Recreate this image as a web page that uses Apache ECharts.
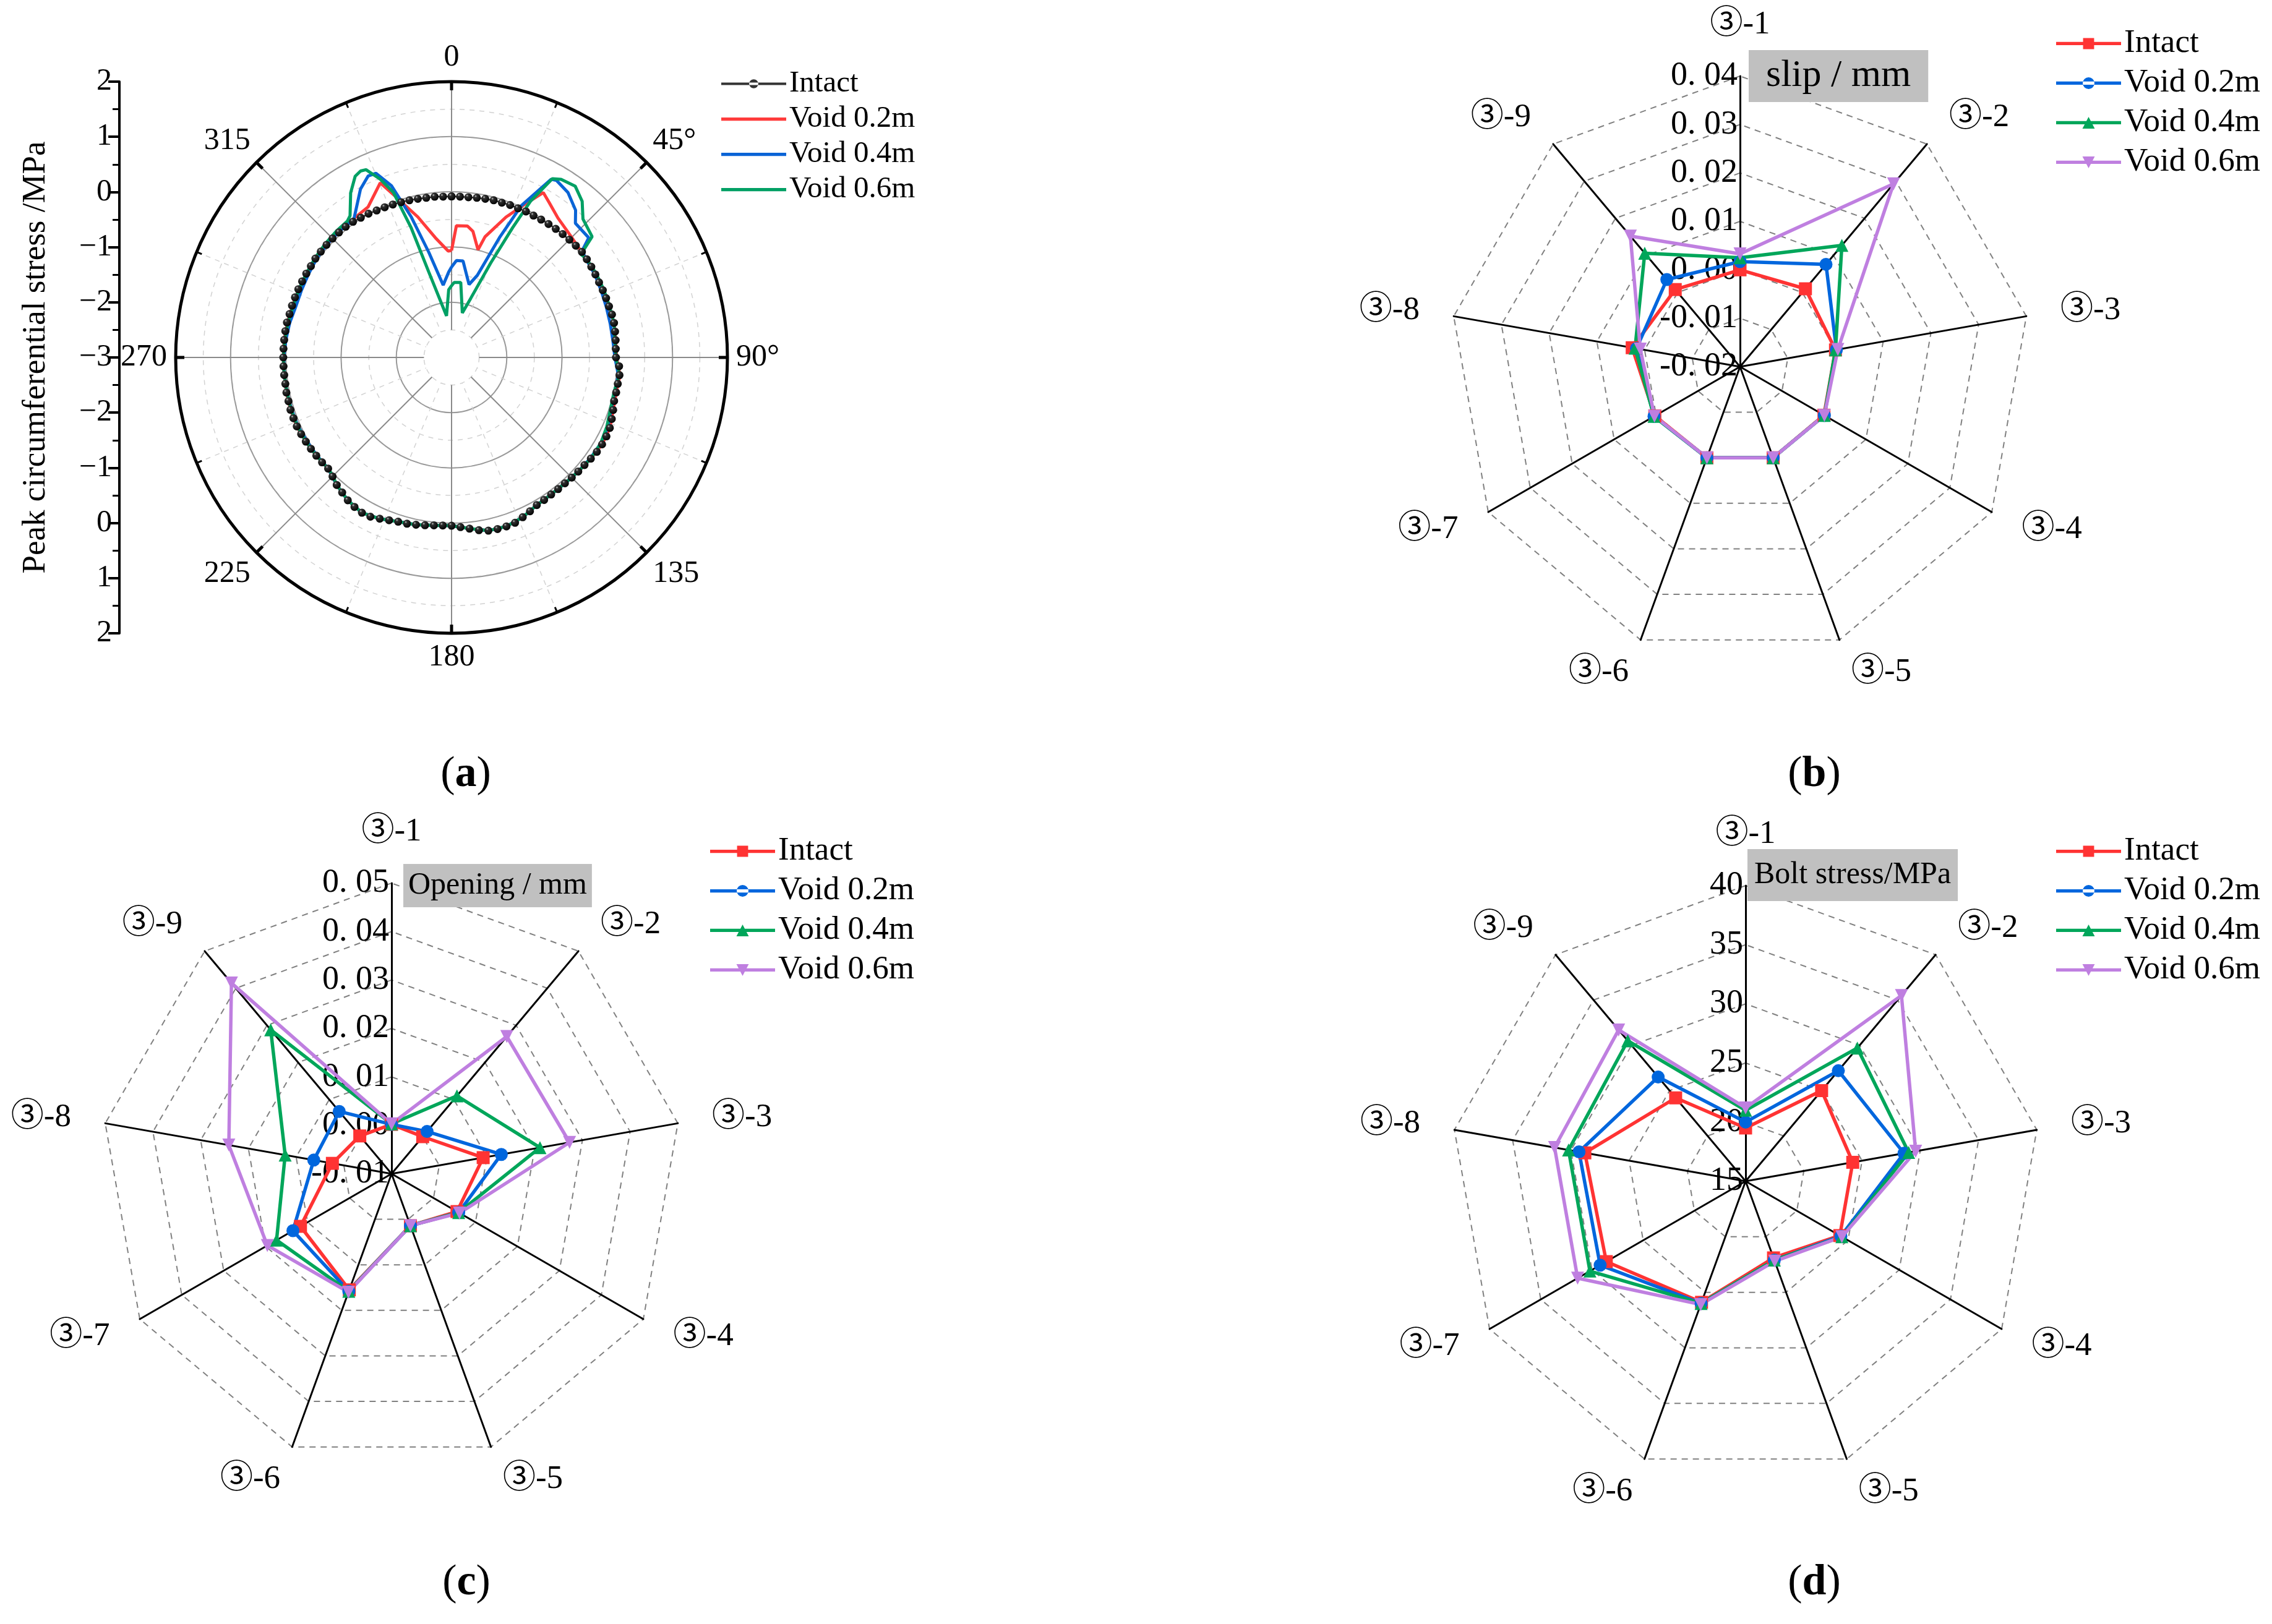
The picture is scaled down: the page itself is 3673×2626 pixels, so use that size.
<!DOCTYPE html>
<html>
<head>
<meta charset="utf-8">
<title>Tunnel lining response to voids</title>
<script src="https://cdn.jsdelivr.net/npm/echarts@6/dist/echarts.min.js"></script>
<style>
html, body { margin: 0; padding: 0; background: #fff; }
#chart { width: 3673px; height: 2626px; }
</style>
</head>
<body>
<div id="chart"></div>
<script>
const FONT = "'Liberation Serif', 'Times New Roman', 'Noto Sans CJK SC', serif"
const caseColors = ['#FF3333', '#0066DD', '#00A65A', '#BF7FE0']
const polarColors = ['#222222', '#FF3B3B', '#0A64D6', '#00A064']

// (a) peak circumferential stress around the lining, [angle deg] / [MPa]
const angleTicks = ['0', '45°', '90°', '135', '180', '225', '270', '315']
const stressTicks = ['2', '1', '0', '−1', '−2', '−3', '−2', '−1', '0', '1', '2']

const angIntact = [
    0, 3, 6, 9, 12, 15, 18, 21, 24, 27,
    30, 33, 36, 39, 42, 45, 48, 51, 54, 57,
    60, 63, 66, 69, 72, 75, 78, 81, 84, 87,
    90, 93, 96, 99, 102, 105, 108, 111, 114, 117,
    120, 123, 126, 129, 132, 135, 138, 141, 144, 147,
    150, 153, 156, 159, 162, 165, 168, 171, 174, 177,
    180, 183, 186, 189, 192, 195, 198, 201, 204, 207,
    210, 213, 216, 219, 222, 225, 228, 231, 234, 237,
    240, 243, 246, 249, 252, 255, 258, 261, 264, 267,
    270, 273, 276, 279, 282, 285, 288, 291, 294, 297,
    300, 303, 306, 309, 312, 315, 318, 321, 324, 327,
    330, 333, 336, 339, 342, 345, 348, 351, 354, 357,
    360
]
const rIntact = [
    -0.08, -0.08, -0.08, -0.07, -0.06, -0.05, -0.05, -0.04, -0.04, -0.03,
    -0.03, -0.02, -0.01, 0.00, 0.01, 0.02, 0.03, 0.04, 0.03, 0.02,
    0.01, 0.00, 0.00, 0.00, 0.00, 0.01, 0.01, 0.00, -0.01, -0.02,
    -0.02, 0.04, 0.06, 0.05, 0.05, 0.05, 0.08, 0.11, 0.14, 0.15,
    0.15, 0.14, 0.12, 0.10, 0.09, 0.08, 0.07, 0.07, 0.07, 0.08,
    0.09, 0.13, 0.17, 0.21, 0.22, 0.22, 0.21, 0.17, 0.12, 0.08,
    0.05, 0.05, 0.06, 0.08, 0.10, 0.12, 0.13, 0.16, 0.20, 0.24,
    0.25, 0.23, 0.20, 0.15, 0.11, 0.05, 0.01, 0.02, 0.03, 0.04,
    0.05, 0.06, 0.07, 0.07, 0.07, 0.06, 0.06, 0.05, 0.05, 0.05,
    0.05, 0.05, 0.05, 0.05, 0.05, 0.04, 0.04, 0.04, 0.04, 0.04,
    0.04, 0.04, 0.05, 0.05, 0.05, 0.05, 0.05, 0.05, 0.04, 0.02,
    0.01, -0.01, -0.02, -0.03, -0.04, -0.05, -0.06, -0.07, -0.07, -0.08,
    -0.08
]
const angVoid02 = [
    0, 2.1, 6.9, 9.6, 13.8, 15.5, 21.2, 25.8, 29.1, 32.2, 37.3, 43.9, 50,
    54, 60, 66, 72, 78, 84, 90, 96, 102, 108, 114, 120, 126, 132, 138, 144,
    150, 156, 162, 168, 174, 180, 186, 192, 198, 204, 210, 216, 222, 228,
    234, 240, 246, 252, 258, 264, 270, 276, 282, 288, 294, 300, 306, 312,
    318, 321, 331, 337.8, 340.4, 346.5, 352.3, 358.2, 360
]
const rVoid02 = [
    -1.06, -0.61, -0.60, -0.68, -0.99, -0.73, -0.27, 0.10, 0.42, 0.32, 0.18, 0.09, 0.04,
    0.03, 0.01, 0.00, 0.00, 0.01, -0.01, -0.01, 0.07, 0.05, 0.08, 0.14, 0.15, 0.12, 0.09, 0.07, 0.07,
    0.09, 0.17, 0.22, 0.21, 0.12, 0.05, 0.06, 0.10, 0.13, 0.20, 0.25, 0.20, 0.11, 0.01,
    0.03, 0.05, 0.07, 0.07, 0.06, 0.05, 0.05, 0.05, 0.04, 0.03, 0.03, 0.03, 0.04, 0.05,
    0.06, 0.07, 0.12, 0.42, 0.13, -0.38, -0.81, -1.07, -1.06
]
const angVoid04 = [
    0, 2.9, 6.8, 13.5, 17.4, 21.8, 24.7, 29.2, 30.7, 35.2, 40.1, 42.7, 48.9, 50.8,
    54, 60, 66, 72, 78, 84, 90, 96, 102, 108, 114, 120, 126, 132, 138, 144,
    150, 156, 162, 168, 174, 180, 186, 192, 198, 204, 210, 216, 222, 228,
    234, 240, 246, 252, 258, 264, 270, 276, 282, 288, 294, 300, 306, 312,
    318, 324.8, 328, 331.6, 335.3, 337.7, 340.7, 344, 347.8, 353.4, 358.1, 360
]
const rVoid04 = [
    -1.36, -1.24, -1.24, -1.64, -1.44, -0.66, 0.03, 0.70, 0.73, 0.66, 0.49, 0.31, 0.30, 0.05,
    0.02, 0.00, -0.03, -0.05, -0.06, -0.06, -0.04, 0.04, 0.02, 0.04, 0.10, 0.12, 0.11, 0.09, 0.07, 0.07,
    0.09, 0.17, 0.22, 0.21, 0.12, 0.05, 0.06, 0.10, 0.13, 0.20, 0.25, 0.20, 0.11, 0.01,
    0.02, 0.03, 0.05, 0.05, 0.05, 0.05, 0.04, 0.02, 0.00, -0.03, -0.02, 0.00, 0.03, 0.05,
    0.06, 0.07, 0.24, 0.47, 0.62, 0.61, 0.30, -0.35, -1.05, -1.68, -1.45, -1.36
]
const angVoid06 = [
    0, 2, 7, 13.6, 18, 22.5, 25.2, 26.8, 29.4, 31.6, 35.8, 39.9, 43.5, 49.3, 51.4,
    54, 60, 66, 72, 78, 84, 90, 96, 102, 108, 114, 120, 126, 132, 138, 144,
    150, 156, 162, 168, 174, 180, 186, 192, 198, 204, 210, 216, 222, 225, 228,
    234, 240, 246, 252, 258, 264, 270, 276, 282, 288, 294, 300, 306, 312,
    318, 322.6, 324.4, 328.5, 332, 334, 335.5, 338.2, 340.6, 342.7, 345.1, 353.1, 357.6, 360
]
const rVoid06 = [
    -1.70, -1.64, -1.63, -2.17, -1.87, -1.15, -0.40, 0.17, 0.72, 0.79, 0.83, 0.69, 0.46, 0.36, 0.00,
    0.03, 0.03, 0.02, 0.01, 0.01, -0.02, -0.02, 0.06, 0.01, 0.03, 0.08, 0.12, 0.12, 0.09, 0.07, 0.07,
    0.09, 0.17, 0.22, 0.21, 0.12, 0.05, 0.06, 0.10, 0.13, 0.20, 0.25, 0.20, 0.11, 0.04, 0.01,
    0.03, 0.05, 0.06, 0.06, 0.05, 0.05, 0.05, 0.04, 0.03, 0.02, 0.03, 0.04, 0.06, 0.08,
    0.10, 0.11, 0.16, 0.50, 0.72, 0.76, 0.74, 0.48, 0.17, -0.54, -1.40, -2.24, -1.77, -1.70
]

// (b)-(d) bolt measurements, order ③-1 ... ③-9 (clockwise from top)
const boltPoints = ['③-1', '③-2', '③-3', '③-4', '③-5', '③-6', '③-7', '③-8', '③-9']
const caseNames = ['Intact', 'Void 0.2m', 'Void 0.4m', 'Void 0.6m']

const slipIntact = [0.0000, 0.0010, 0.0000, 0.0000, 0.0000, 0.0000, 0.0003, 0.0026, 0.0008]
const slipVoid02 = [0.0017, 0.0076, 0.0002, 0.0001, 0.0000, 0.0000, 0.0005, 0.0017, 0.0035]
const slipVoid04 = [0.0025, 0.0127, 0.0000, 0.0001, 0.0000, 0.0000, 0.0005, 0.0020, 0.0106]
const slipVoid06 = [0.0033, 0.0293, 0.0005, 0.0001, 0.0000, 0.0000, 0.0004, 0.0009, 0.0152]

const openIntact = [0.0002, 0.0000, 0.0092, 0.0056, 0.0014, 0.0155, 0.0117, 0.0024, 0.0002]
const openVoid02 = [0.0002, 0.0014, 0.0130, 0.0060, 0.0014, 0.0158, 0.0135, 0.0063, 0.0068]
const openVoid04 = [0.0003, 0.0110, 0.0211, 0.0060, 0.0014, 0.0158, 0.0174, 0.0123, 0.0288]
const openVoid06 = [0.0003, 0.0270, 0.0273, 0.0062, 0.0014, 0.0160, 0.0196, 0.0241, 0.0414]

const boltIntact = [19.5, 25.0, 24.2, 24.2, 21.9, 25.9, 28.6, 28.8, 24.2]
const boltVoid02 = [20.0, 27.2, 28.6, 24.3, 22.1, 26.0, 29.2, 29.3, 26.5]
const boltVoid04 = [21.0, 29.7, 29.0, 24.4, 22.1, 26.0, 30.2, 30.2, 30.5]
const boltVoid06 = [21.2, 35.5, 29.6, 24.4, 22.2, 26.1, 31.4, 31.4, 31.7]

const panelTags = ['a', 'b', 'c', 'd']

// echarts lays radar indicators out anticlockwise, the figure goes clockwise
const ccw = [0, 8, 7, 6, 5, 4, 3, 2, 1]
const reorder = arr => ccw.map(i => arr[i])

// legend icons: line with marker in the middle
const ICON_LINE = 'M0,7.5H100V12.5H0Z'
const legendIcons = [
    ICON_LINE + 'M41.5,1.5H58.5V18.5H41.5Z',
    ICON_LINE + 'M41,10A9,9 0 1,0 59,10A9,9 0 1,0 41,10Z',
    ICON_LINE + 'M40.5,19L50,1L59.5,19Z',
    ICON_LINE + 'M40.5,1L59.5,1L50,19Z'
]
const markerSymbols = ['rect', 'circle', 'triangle', 'path://M0,0L10,0L5,9Z']

const ballFill = {
    type: 'radial', x: 0.35, y: 0.3, r: 0.75,
    colorStops: [{offset: 0, color: '#c8c8c8'}, {offset: 0.22, color: '#2e2e2e'}, {offset: 1, color: '#000000'}]
}

const chart = echarts.init(document.getElementById('chart'), null, {renderer: 'canvas'})

function fmt2 (v) {
    if (Math.abs(v) < 1e-9) v = 0
    return v.toFixed(2).replace('.', '. ')
}

function makeRadar (center, radius, min, max, splitNumber, formatter) {
    return {
        center: center,
        radius: radius,
        startAngle: 90,
        splitNumber: splitNumber,
        shape: 'polygon',
        nameGap: 56,
        indicator: reorder(boltPoints).map((n, i) => i === 0
            ? {name: n, min: min, max: max, axisLabel: {show: true}}
            : {name: n, min: min, max: max}),
        axisName: {color: '#000', fontSize: 53, fontFamily: FONT},
        axisLine: {lineStyle: {color: '#000', width: 3}},
        axisTick: {show: false},
        axisLabel: {show: false, fontSize: 54, color: '#000', fontFamily: FONT, margin: 4, formatter: formatter},
        splitLine: {lineStyle: {color: '#808080', width: 2, type: [10, 8]}},
        splitArea: {show: false}
    }
}

function radarSeries (radarIndex, prefix, arrays) {
    return {
        type: 'radar',
        radarIndex: radarIndex,
        symbolSize: 21,
        data: arrays.map((arr, i) => ({
            name: prefix + caseNames[i],
            value: reorder(arr),
            symbol: markerSymbols[i],
            itemStyle: {color: caseColors[i]},
            lineStyle: {color: caseColors[i], width: 5.5}
        }))
    }
}

function makeLegend (prefix, left, top, fontSize, itemGap, icons, styles) {
    return {
        left: left,
        top: top,
        orient: 'vertical',
        padding: 0,
        itemWidth: 105,
        itemHeight: 21,
        itemGap: itemGap,
        selectedMode: false,
        textStyle: {fontSize: fontSize, color: '#000', fontFamily: FONT},
        formatter: name => name.split(':')[1],
        data: caseNames.map((n, i) => Object.assign({name: prefix + n, icon: 'path://' + icons[i]}, styles ? {itemStyle: styles[i]} : {}))
    }
}

const polarLine = (name, angs, rs, color) => ({
    name: name,
    type: 'line',
    coordinateSystem: 'polar',
    polarIndex: 0,
    symbol: 'none',
    lineStyle: {color: color, width: 5},
    itemStyle: {color: color},
    data: angs.map((a, i) => [rs[i], a])
})

const hiddenRadius = {type: 'value', min: 0, max: 1, show: false}

const option = {
    animation: false,
    backgroundColor: '#fff',
    textStyle: {fontFamily: FONT, color: '#000'},
    title: [
        {text: 'slip / mm', left: 2827, top: 81, backgroundColor: '#c0c0c0', padding: [11, 28, 11, 28],
            textStyle: {fontSize: 62, lineHeight: 62, fontWeight: 'normal', fontFamily: FONT, color: '#000'}},
        {text: 'Opening / mm', left: 652, top: 1397, backgroundColor: '#c0c0c0', padding: [10, 8, 10, 8],
            textStyle: {fontSize: 50, lineHeight: 50, fontWeight: 'normal', fontFamily: FONT, color: '#000'}},
        {text: 'Bolt stress/MPa', left: 2825, top: 1373, backgroundColor: '#c0c0c0', padding: [17, 11, 17, 11],
            textStyle: {fontSize: 50, lineHeight: 50, fontWeight: 'normal', fontFamily: FONT, color: '#000'}}
    ],
    legend: [
        makeLegend('a:', 1166, 111, 49, 8,
            ['M0,8H100V12H0ZM43,10A7,7 0 1,0 57,10A7,7 0 1,0 43,10Z', 'M0,7.5H100V12.5H0Z', 'M0,7.5H100V12.5H0Z', 'M0,7.5H100V12.5H0Z'],
            [{color: '#333'}, {color: polarColors[1]}, {color: polarColors[2]}, {color: polarColors[3]}]),
        makeLegend('b:', 3324, 44, 53, 11, legendIcons),
        makeLegend('c:', 1148, 1350, 53, 11, legendIcons),
        makeLegend('d:', 3324, 1350, 53, 11, legendIcons)
    ],
    // folded stress scale drawn at the left of panel (a)
    grid: [{left: 193, top: 132, width: 1, height: 892, show: false}],
    xAxis: [{gridIndex: 0, type: 'value', show: false, min: 0, max: 1}],
    yAxis: [{
        gridIndex: 0,
        type: 'value',
        min: -5,
        max: 5,
        interval: 1,
        axisLine: {show: true, lineStyle: {color: '#000', width: 4}},
        axisTick: {show: true, length: 18, lineStyle: {color: '#000', width: 4}},
        minorTick: {show: true, splitNumber: 2, length: 11, lineStyle: {color: '#000', width: 3}},
        axisLabel: {fontSize: 50, color: '#000', fontFamily: FONT, margin: 12, formatter: v => stressTicks[5 - Math.round(v)]},
        splitLine: {show: false},
        name: 'Peak circumferential stress /MPa',
        nameLocation: 'middle',
        nameGap: 108,
        nameTextStyle: {fontSize: 53, color: '#000', fontFamily: FONT}
    }],
    polar: [
        {center: [730, 578], radius: [44.6, 446]},
        {center: [730, 578], radius: [0, 357.3]},
        {center: [730, 578], radius: [0, 446]}
    ],
    angleAxis: [{
        polarIndex: 0,
        type: 'value',
        min: 0,
        max: 360,
        interval: 45,
        startAngle: 90,
        clockwise: true,
        axisLine: {show: false},
        axisTick: {show: false},
        minorTick: {show: false, splitNumber: 2},
        axisLabel: {show: false},
        splitLine: {show: true, lineStyle: {color: '#8a8a8a', width: 2}},
        minorSplitLine: {show: true, lineStyle: {color: '#d2d2d2', width: 1.5, type: [8, 8]}}
    }, {
        polarIndex: 1,
        type: 'value',
        min: 0,
        max: 360,
        show: false
    }, {
        polarIndex: 2,
        type: 'value',
        min: 0,
        max: 360,
        interval: 45,
        startAngle: 90,
        clockwise: true,
        axisLine: {lineStyle: {color: '#000', width: 5}},
        axisTick: {show: true, inside: true, length: 14, lineStyle: {color: '#000', width: 5}},
        minorTick: {show: true, splitNumber: 2, length: 9, lineStyle: {color: '#000', width: 3}},
        axisLabel: {margin: 14, fontSize: 50, color: '#000', fontFamily: FONT, formatter: v => angleTicks[Math.round(v / 45) % 8]},
        splitLine: {show: false},
        minorSplitLine: {show: false}
    }],
    radiusAxis: [{
        polarIndex: 0,
        type: 'value',
        min: -2.5,
        max: 2,
        interval: 0.5,
        axisLine: {show: false},
        axisTick: {show: false},
        axisLabel: {show: false},
        splitLine: {show: true, lineStyle: {color: '#d2d2d2', width: 1.5, type: [8, 8]}}
    }, {
        polarIndex: 1,
        type: 'value',
        min: -3,
        max: 1,
        interval: 1,
        axisLine: {show: false},
        axisTick: {show: false},
        axisLabel: {show: false},
        splitLine: {show: true, lineStyle: {color: '#9a9a9a', width: 2}}
    }, Object.assign({polarIndex: 2}, hiddenRadius)],
    radar: [
        makeRadar([2813, 593], 470, -0.02, 0.04, 6, fmt2),
        makeRadar([633, 1898], 470, -0.01, 0.05, 6, fmt2),
        makeRadar([2822, 1910], 478, 15, 40, 5, v => String(Math.round(v)))
    ],
    graphic: panelTags.map((t, i) => ({
        type: 'text',
        x: [753, 2933, 754, 2933][i],
        y: [1253, 1253, 2560, 2560][i],
        style: {
            text: '{p|(}{b|' + t + '}{p|)}',
            align: 'center',
            verticalAlign: 'middle',
            rich: {
                p: {fontSize: 70, fontFamily: FONT, fill: '#000'},
                b: {fontSize: 70, fontFamily: FONT, fontWeight: 'bold', fill: '#000'}
            }
        }
    })),
    series: [
        {
            name: 'a:Intact',
            type: 'line',
            coordinateSystem: 'polar',
            polarIndex: 0,
            symbol: 'circle',
            symbolSize: 13,
            showAllSymbol: true,
            lineStyle: {color: '#222', width: 2},
            itemStyle: {color: ballFill},
            data: angIntact.map((a, i) => [rIntact[i], a])
        },
        polarLine('a:Void 0.2m', angVoid02, rVoid02, polarColors[1]),
        polarLine('a:Void 0.4m', angVoid04, rVoid04, polarColors[2]),
        polarLine('a:Void 0.6m', angVoid06, rVoid06, polarColors[3]),
        radarSeries(0, 'b:', [slipIntact, slipVoid02, slipVoid04, slipVoid06]),
        radarSeries(1, 'c:', [openIntact, openVoid02, openVoid04, openVoid06]),
        radarSeries(2, 'd:', [boltIntact, boltVoid02, boltVoid04, boltVoid06])
    ]
}

chart.setOption(option)
</script>
</body>
</html>
